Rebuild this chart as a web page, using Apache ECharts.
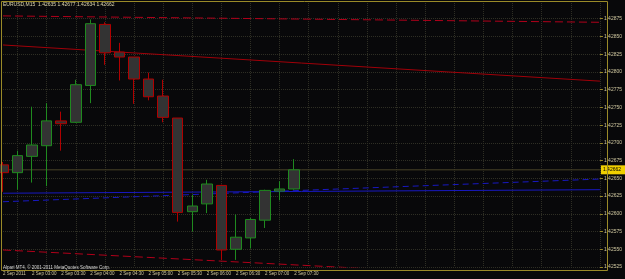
<!DOCTYPE html>
<html><head><meta charset="utf-8">
<script src="https://cdn.jsdelivr.net/npm/echarts@6/dist/echarts.min.js"></script>
<style>html,body{margin:0;padding:0;background:#08080a}#c{width:625px;height:279px}</style>
</head><body><div id="c"></div>
<script>
const categories = ["02:30","02:45","03:00","03:15","03:30","03:45","04:00","04:15","04:30","04:45","05:00","05:15","05:30","05:45","06:00","06:15","06:30","06:45","07:00","07:15","07:30","07:45","08:00","08:15","08:30","08:45","09:00","09:15","09:30","09:45","10:00","10:15","10:30","10:45","11:00","11:15","11:30","11:45","12:00","12:15","12:30","12:45"];
const timeLabels = ["2 Sep 2011","","2 Sep 03:00","","2 Sep 03:30","","2 Sep 04:00","","2 Sep 04:30","","2 Sep 05:00","","2 Sep 05:30","","2 Sep 06:00","","2 Sep 06:30","","2 Sep 07:00","","2 Sep 07:30"];
const opens  = [1.42669,1.42658,1.42681,1.42696,1.42731,1.42729,1.42781,1.42867,1.42828,1.42821,1.42790,1.42766,1.42735,1.42603,1.42614,1.42640,1.42550,1.42566,1.42591,1.42632,1.42635];
const closes = [1.42658,1.42682,1.42697,1.42731,1.42727,1.42782,1.42868,1.42827,1.42821,1.42790,1.42765,1.42736,1.42602,1.42611,1.42642,1.42549,1.42567,1.42592,1.42633,1.42635,1.42662];
const lows   = [1.42631,1.42634,1.42644,1.42639,1.42689,1.42728,1.42756,1.42810,1.42788,1.42755,1.42760,1.42729,1.42589,1.42575,1.42601,1.42535,1.42535,1.42551,1.42580,1.42619,1.42634];
const highs  = [1.42673,1.42689,1.42751,1.42756,1.42744,1.42789,1.42874,1.42870,1.42841,1.42821,1.42799,1.42789,1.42735,1.42627,1.42648,1.42641,1.42599,1.42594,1.42634,1.42646,1.42677];
const currentPrice = 1.42662;
const bidLine = [[0,currentPrice],[41,currentPrice]];
const redDashedTop = [[0,1.42879],[41,1.42870]];
const redSolid = [[0,1.42838],[41,1.42787]];
const redDashedBottom = [[0,1.42549],[41,1.42506]];
const blueSolid = [[0,1.42629],[41,1.42634]];
const blueDashed = [[0,1.42617],[41,1.42649]];
const yMin = 1.42525, yMax = 1.42900, yStep = 0.00025;
const headerText = "EURUSD,M15  1.42635 1.42677 1.42634 1.42662";
const footerText = "Alpari MT4, © 2001-2011 MetaQuotes Software Corp.";

const ohlc = opens.map((o,i)=>[o, closes[i], lows[i], highs[i]]);
const txt = '#d0c8a0', frame = '#9a8a28', grid = '#2e2e24';
const font = 'Liberation Sans';
const chart = echarts.init(document.getElementById('c'), null, {renderer:'canvas'});
function line(data, color, type, extra){
  return Object.assign({type:'line', data, symbol:'none', silent:true, z:1, clip:true,
    lineStyle:{color, width:1, type}, animation:false}, extra||{});
}
chart.setOption({
  backgroundColor:'#08080a',
  animation:false,
  grid:{left:1, right:18, top:1, bottom:12, containLabel:false},
  xAxis:{type:'category', data:categories, boundaryGap:false,
    axisLine:{show:false}, axisTick:{show:false},
    axisLabel:{interval:0, formatter:(v,i)=>timeLabels[i]||'', color:txt, fontSize:4.5, fontFamily:font, align:'left', margin:4},
    splitLine:{show:true, interval:(i)=>i%2===1, lineStyle:{color:grid, type:'dotted', width:1}}},
  yAxis:{type:'value', position:'right', min:yMin, max:yMax, interval:yStep, scale:true,
    axisLine:{show:false}, axisTick:{show:true, length:3, lineStyle:{color:frame}},
    axisLabel:{color:txt, fontSize:5, fontFamily:font, margin:4, showMaxLabel:false, formatter:v=>v.toFixed(5)},
    splitLine:{show:true, lineStyle:{color:grid, type:'dotted', width:1}}},
  graphic:[
    {type:'rect', shape:{x:1.5, y:1.5, width:606, height:269}, style:{fill:null, stroke:frame, lineWidth:1}, z:100, silent:true},
    {type:'text', left:3, top:2, style:{text:headerText, fill:'#e0d8b0', fontSize:5, fontFamily:font}, z:100},
    {type:'text', left:3, top:265, style:{text:footerText, fill:'#d8d8d8', fontSize:4.5, fontFamily:font}, z:100}
  ],
  series:[
    line(bidLine, '#4a4428', 'solid', {z:2,
      endLabel:{show:true, formatter:()=>currentPrice.toFixed(5), color:'#000', backgroundColor:'#f0d000', fontSize:5, fontFamily:font, padding:[2,4,2,2], distance:1}}),
    line(redDashedTop, '#b0001a', [8,4]),
    line(redSolid, '#a00008', 'solid'),
    line(redDashedBottom, '#b0001a', [8,4]),
    line(blueSolid, '#1818c0', 'solid'),
    line(blueDashed, '#1818c0', [6,4]),
    {type:'candlestick', data:ohlc, barWidth:11, z:5, clip:true,
      itemStyle:{color:'#333333', color0:'#333333', borderColor:'#1f8a1f', borderColor0:'#b00000', borderWidth:1}}
  ]
});
</script></body></html>
